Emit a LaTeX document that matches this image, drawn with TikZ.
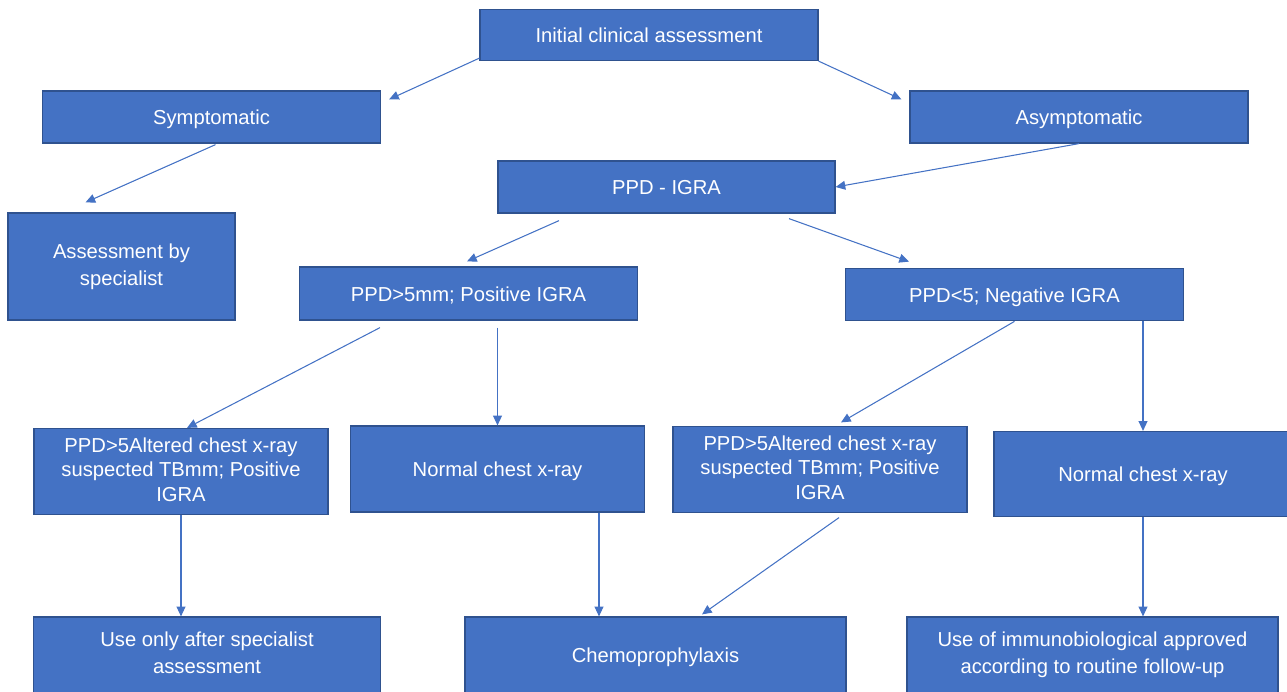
\documentclass[tikz,border=0pt]{standalone}
\usepackage{fontspec}
\setmainfont{Liberation Sans}
\usepackage{tikz}
\usetikzlibrary{arrows.meta}
\usetikzlibrary{calc}
\usepackage{xcolor}
\definecolor{boxblue}{HTML}{4472C4}
\definecolor{boxedge}{HTML}{2F528F}

\begin{document}
\begin{tikzpicture}[x=0.02cm, y=-0.02cm,
  box/.style={draw=boxedge, line width=0.7pt, fill=boxblue, text=white, align=center, inner sep=0pt, font=\fontsize{11.5}{15.5}\selectfont, execute at begin node={\rule[-0.2em]{0pt}{1.15em}}},
  tightbox/.style={box, font=\fontsize{11.5}{13.8}\selectfont},
  arr/.style={boxblue, line width=0.6pt, -{Triangle[length=5.5pt,width=5pt]}}]

\useasboundingbox (0,0) rectangle (1287,691);

% first levels
\node[box, minimum width=6.76cm, minimum height=1.02cm] (init) at (649,35) {Initial clinical assessment};
\node[box, minimum width=6.76cm, minimum height=1.04cm] (sympt) at (211.5,117) {Symptomatic};
\node[box, minimum width=6.76cm, minimum height=1.04cm] (asympt) at (1079,117) {Asymptomatic};
\node[box, minimum width=6.74cm, minimum height=1.04cm] (igra) at (666.5,187) {PPD - IGRA};
\node[box, minimum width=4.54cm, minimum height=2.14cm] (spec) at (121.5,266.5) {Assessment by\\specialist};
\node[box, minimum width=6.77cm, minimum height=1.06cm] (pos) at (468.5,293.5) {PPD>5mm; Positive IGRA};
\node[box, minimum width=6.76cm, minimum height=1.05cm] (neg) at (1014.5,294.5) {PPD<5; Negative IGRA};

% chest x-ray
\node[tightbox, minimum width=5.88cm, minimum height=1.72cm] (altL) at (181,471.5) {PPD>5Altered chest x-ray\\suspected TBmm; Positive\\IGRA};
\node[box, minimum width=5.88cm, minimum height=1.72cm] (normL) at (497.5,469) {Normal chest x-ray};
\node[tightbox, minimum width=5.88cm, minimum height=1.72cm] (altR) at (820,469.5) {PPD>5Altered chest x-ray\\suspected TBmm; Positive\\IGRA};
\node[box, minimum width=5.96cm, minimum height=1.7cm] (normR) at (1143,474) {Normal chest x-ray};

% outcome
\node[box, minimum width=6.94cm, minimum height=1.52cm] (useonly) at (207,655) {Use only after specialist\\assessment};
\node[box, minimum width=7.62cm, minimum height=1.52cm] (chemo) at (655.5,655) {Chemoprophylaxis};
\node[box, minimum width=7.42cm, minimum height=1.52cm] (immuno) at (1092.5,655) {Use of immunobiological approved\\according to routine follow-up};

% arrows
\draw[arr] ([shift={(0,-3)}]init.south west) -- ([shift={(8,9)}]sympt.north east);
\draw[arr] (init.south east) -- ([shift={(-8,9)}]asympt.north west);
\draw[arr] (asympt.south) -- (igra.east);
\draw[arr] ([shift={(4,1)}]sympt.south) -- ([shift={(-36,-10)}]spec.north);
\draw[arr] ([shift={(-107.5,7)}]igra.south) -- ([shift={(-1.5,-5)}]pos.north);
\draw[arr] ([shift={(122.5,5)}]igra.south) -- ([shift={(64,-6)}]neg.north west);
\draw[arr] ([shift={(-88.5,7)}]pos.south) -- ([shift={(6,0)}]altL.north);
\draw[arr, shorten <=0.14cm] (pos.south -| normL.north) -- (normL.north);
\draw[arr] (neg.south) -- ([shift={(21,-3.5)}]altR.north);
\draw[arr] (neg.south -| normR.north) -- (normR.north);
\draw[arr] (altL.south) -- (altL.south |- useonly.north);
\coordinate (nl) at ($(normL.south)+(101.5,0)$);
\draw[arr] (nl) -- (nl |- chemo.north);
\draw[arr] ([shift={(19,4.5)}]altR.south) -- ([shift={(46.5,-2)}]chemo.north);
\draw[arr] (normR.south) -- (normR.south |- immuno.north);

\end{tikzpicture}
\end{document}
